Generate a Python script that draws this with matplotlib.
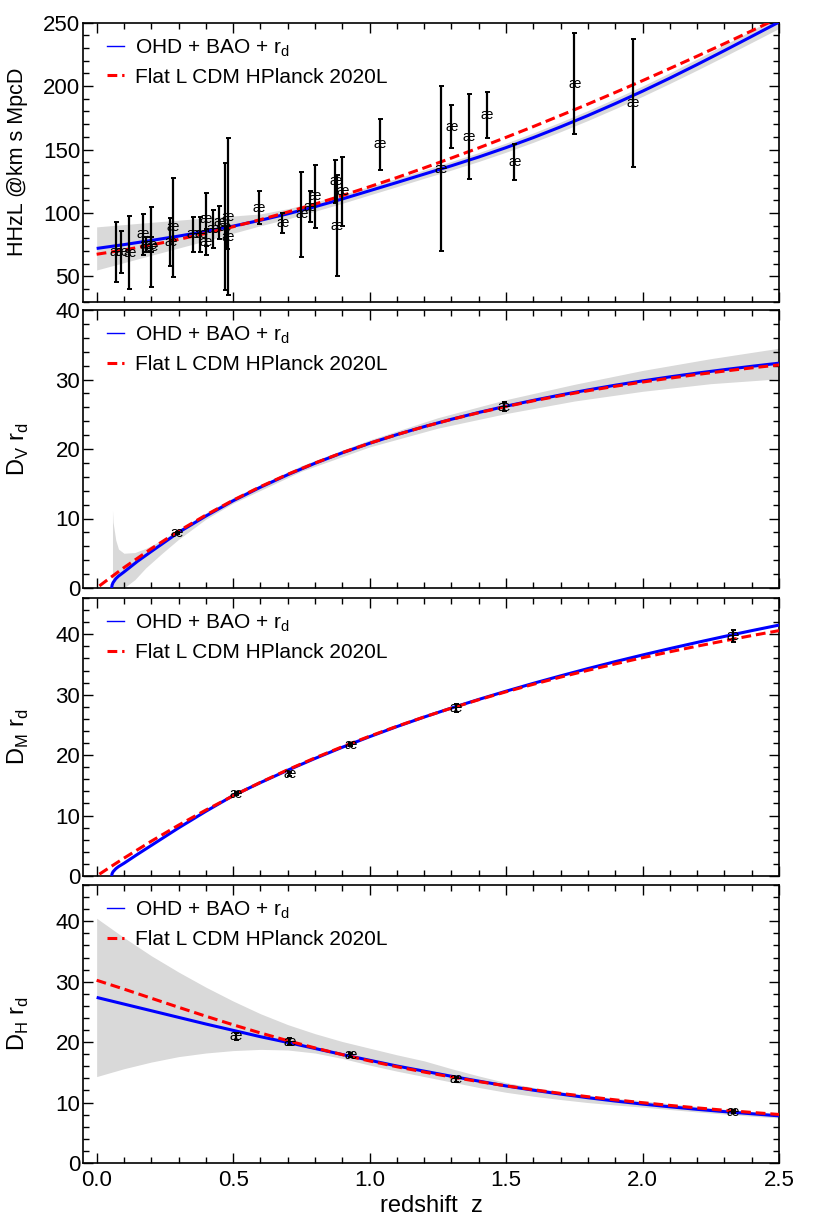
import numpy as np
import matplotlib
matplotlib.use("Agg")
import matplotlib.pyplot as plt
from matplotlib.lines import Line2D
from matplotlib.ticker import MultipleLocator

plt.rcParams['font.family'] = ['Liberation Sans', 'DejaVu Sans']
plt.rcParams['mathtext.fontset'] = 'custom'
plt.rcParams['mathtext.rm'] = 'Liberation Sans'

# ---- data ----
z_grid = np.round(np.arange(0, 2.51, 0.1), 2)

# cosmic chronometer H(z) points
z_ohd = [0.07, 0.09, 0.12, 0.17, 0.179, 0.199, 0.20, 0.27, 0.28, 0.352, 0.3802, 0.40,
         0.4004, 0.4247, 0.4497, 0.47, 0.4783, 0.48, 0.593, 0.68, 0.75, 0.781, 0.80,
         0.875, 0.88, 0.90, 1.037, 1.26, 1.30, 1.363, 1.43, 1.53, 1.75, 1.965]
H_ohd = [69, 69, 68.6, 83, 75, 75, 72.9, 77, 88.8, 83, 83, 95, 77, 87.1, 92.8, 89, 80.9,
         97, 104, 92, 98.8, 105, 113.1, 125, 90, 117, 154, 135, 168, 160, 177, 140, 202, 186.5]
H_err = [23.5, 16.7, 28.8, 16, 6, 6, 31.5, 18.7, 39, 14, 13.5, 21, 10.2, 15, 13, 50, 9,
         62, 13, 8, 33.6, 12, 25, 17, 40, 27, 20, 65, 17, 33.6, 18, 14, 40, 50.4]

H_fit = [72.0, 75.0, 78.3, 81.7, 85.5, 89.6, 94.2, 99.3, 104.9, 111.0, 117.5, 124.0, 130.6,
         137.2, 144.1, 151.5, 159.4, 167.9, 176.8, 186.2, 196.0, 206.3, 217.0, 228.0, 239.2, 250.5]
H_lo = [55.0, 60.8, 66.6, 72.3, 78.0, 84.0, 89.9, 95.3, 101.3, 107.6, 114.2, 120.7, 127.3,
        133.8, 140.6, 147.9, 155.7, 164.1, 172.9, 182.2, 191.9, 202.1, 212.6, 223.4, 234.4, 245.5]
H_hi = [89.0, 90.8, 92.6, 94.3, 96.0, 97.6, 99.2, 103.3, 108.5, 114.4, 120.8, 127.3, 133.9,
        140.6, 147.6, 155.1, 163.1, 171.7, 180.7, 190.2, 200.1, 210.5, 221.4, 232.6, 244.0, 255.5]
H_lcdm = [67.4, 70.8, 74.7, 79.1, 83.9, 89.1, 94.7, 100.7, 107.0, 113.7, 120.7, 127.9, 135.5,
          143.3, 151.3, 159.6, 168.1, 176.9, 185.8, 195.0, 204.3, 213.9, 223.6, 233.5, 243.6, 253.9]

# BAO points
z_dv = [0.295, 1.491]
dv = [7.93, 26.07]
dv_err = [0.15, 0.67]
z_dm = [0.51, 0.706, 0.93, 1.317, 2.33]
dm = [13.62, 16.85, 21.71, 27.79, 39.71]
dm_err = [0.25, 0.32, 0.28, 0.69, 0.94]
z_dh = [0.51, 0.706, 0.93, 1.317, 2.33]
dh = [20.98, 20.08, 17.88, 13.82, 8.52]
dh_err = [0.61, 0.60, 0.35, 0.42, 0.17]

# fitted distance curves
z_fit_d = [0.055, 0.0565, 0.06, 0.07, 0.08, 0.1, 0.15, 0.2, 0.3] + list(np.round(np.arange(0.4, 2.51, 0.1), 2))
DV_fit = [0, 0.42, 0.77, 1.33, 1.71, 2.3, 3.85, 5.25, 8.0, 10.35, 12.55, 14.5, 16.3, 17.95,
          19.45, 20.82, 22.07, 23.22, 24.28, 25.26, 26.16, 27.0, 27.78, 28.5, 29.18, 29.8,
          30.38, 30.92, 31.42, 31.9, 32.35]
DM_fit = [0, 0.38, 0.7, 1.2, 1.55, 2.1, 3.6, 5.05, 7.95, 10.7, 13.3, 15.45, 17.5, 19.45,
          21.3, 23.05, 24.72, 26.3, 27.8, 29.22, 30.58, 31.88, 33.12, 34.32, 35.47, 36.57,
          37.63, 38.65, 39.64, 40.6, 41.52]
DH_fit = [27.4, 26.3, 25.2, 24.1, 23.0, 21.95, 20.9, 19.95, 18.95, 17.95, 17.0, 16.05, 15.2,
          14.35, 13.55, 12.75, 12.05, 11.4, 10.8, 10.25, 9.75, 9.3, 8.88, 8.5, 8.15, 7.8]

z_dv_band = [0.058, 0.06, 0.07, 0.08, 0.1, 0.14, 0.18, 0.24, 0.3, 0.4, 0.5, 0.75, 1.0,
             1.25, 1.5, 1.75, 2.0, 2.25, 2.5]
DV_lo = [0, 0, 0, 0, 0, 1.2, 2.9, 5.0, 7.0, 9.9, 12.2, 16.8, 20.3, 23.0, 25.1, 26.9, 28.3, 29.4, 30.1]
DV_hi = [11.2, 9.5, 6.9, 5.6, 5.0, 5.1, 5.7, 6.9, 8.4, 10.8, 13.0, 17.6, 21.3, 24.5, 27.1,
         29.3, 31.3, 33.0, 34.5]
DH_lo = [14.3, 15.6, 16.7, 17.6, 18.2, 18.6, 18.8, 18.7, 18.2, 17.3, 16.2, 15.2, 14.3, 13.4,
         12.5, 11.7, 11.05, 10.5, 10.0, 9.6, 9.25, 8.85, 8.45, 8.1, 7.75, 7.45]
DH_hi = [40.5, 37.3, 34.3, 31.6, 29.1, 26.8, 24.7, 22.9, 21.4, 20.1, 19.0, 17.9, 16.9, 15.6,
         14.4, 13.3, 12.5, 11.8, 11.2, 10.7, 10.3, 9.8, 9.35, 8.9, 8.5, 8.15]

z_lcdm_d = [0.01, 0.05] + list(z_grid[1:])
DV_lcdm = [0.30, 1.48, 2.93, 5.65, 8.18, 10.49, 12.63, 14.58, 16.36, 17.98, 19.48, 20.83,
           22.07, 23.21, 24.26, 25.22, 26.11, 26.93, 27.68, 28.38, 29.03, 29.63, 30.19,
           30.72, 31.21, 31.67, 32.10]
DM_lcdm = [0.30, 1.49, 2.95, 5.75, 8.41, 10.91, 13.27, 15.49, 17.58, 19.54, 21.39, 23.13,
           24.77, 26.32, 27.78, 29.17, 30.48, 31.72, 32.91, 34.03, 35.10, 36.12, 37.10,
           38.03, 38.92, 39.78, 40.60]
DH_lcdm = [30.24, 28.78, 27.27, 25.77, 24.29, 22.87, 21.52, 20.24, 19.04, 17.93, 16.89,
           15.93, 15.05, 14.23, 13.47, 12.77, 12.12, 11.52, 10.97, 10.45, 9.98, 9.53, 9.12,
           8.73, 8.37, 8.03]

ylabels = ['HHzL @km s MpcD', r'D$_\mathrm{V}$ r$_\mathrm{d}$',
           r'D$_\mathrm{M}$ r$_\mathrm{d}$', r'D$_\mathrm{H}$ r$_\mathrm{d}$']
ylabel_sizes = [15.5, 17, 17, 17]
leg_labels = [r'OHD + BAO + r$_\mathrm{d}$', 'Flat L CDM HPlanck 2020L']

BLUE = (0, 0, 1)
RED = (1, 0, 0)
GRAY = (0.85, 0.85, 0.85)
DASH = (0, (3.2, 1.6))

fig = plt.figure(figsize=(8.14, 12.21), dpi=100)
W = 814.0
Hpx = 1221.0
left, right = 83 / W, 779 / W
tops = [22.7, 310, 598, 885]
bots = [301.7, 588, 876, 1163]
axs = []
for t, b in zip(tops, bots):
    axs.append(fig.add_axes([left, 1 - b / Hpx, right - left, (b - t) / Hpx]))

panels = [
    dict(z=z_grid, fit=H_fit, zb=z_grid, lo=H_lo, hi=H_hi, zl=z_grid, lcdm=H_lcdm,
         zp=z_ohd, p=H_ohd, e=H_err, ylim=(30, 250), major=50, minor=10),
    dict(z=z_fit_d, fit=DV_fit, zb=z_dv_band, lo=DV_lo, hi=DV_hi, zl=z_lcdm_d, lcdm=DV_lcdm,
         zp=z_dv, p=dv, e=dv_err, ylim=(0, 40), major=10, minor=2),
    dict(z=z_fit_d, fit=DM_fit, zb=None, lo=None, hi=None, zl=z_lcdm_d, lcdm=DM_lcdm,
         zp=z_dm, p=dm, e=dm_err, ylim=(0, 46), major=10, minor=2),
    dict(z=z_grid, fit=DH_fit, zb=z_grid, lo=DH_lo, hi=DH_hi, zl=z_grid, lcdm=DH_lcdm,
         zp=z_dh, p=dh, e=dh_err, ylim=(0, 46), major=10, minor=2),
]

for i, (ax, P) in enumerate(zip(axs, panels)):
    if P['zb'] is not None:
        ax.fill_between(P['zb'], P['lo'], P['hi'], color=GRAY, lw=0, zorder=1)
    ax.plot(P['z'], P['fit'], color=BLUE, lw=2.2, zorder=3, solid_capstyle='butt')
    ax.plot(P['zl'], P['lcdm'], color=RED, lw=2.2, ls=DASH, zorder=4)
    ax.errorbar(P['zp'], P['p'], yerr=P['e'], fmt='none', ecolor='black', elinewidth=1.6,
                capsize=1.8, capthick=1.4, zorder=5)
    for zz, vv in zip(P['zp'], P['p']):
        ax.text(zz, vv, 'æ', fontsize=10, ha='center', va='center', zorder=6)

    ax.set_xlim(-0.05, 2.5)
    ax.set_ylim(*P['ylim'])
    ax.xaxis.set_major_locator(MultipleLocator(0.5))
    ax.xaxis.set_minor_locator(MultipleLocator(0.1))
    ax.yaxis.set_major_locator(MultipleLocator(P['major']))
    ax.yaxis.set_minor_locator(MultipleLocator(P['minor']))
    ax.tick_params(which='both', direction='in', top=True, right=True, width=1.0,
                   labelsize=16, pad=2)
    ax.tick_params(which='major', length=7)
    ax.tick_params(which='minor', length=4)
    for s in ax.spines.values():
        s.set_linewidth(1.2)
    if i < 3:
        ax.tick_params(labelbottom=False)
    else:
        ax.xaxis.set_major_formatter(plt.FormatStrFormatter('%.1f'))
        ax.tick_params(axis='x', pad=5)
        ax.set_xlabel('redshift  z', fontsize=17, labelpad=3)

    fig.text(18 / W, 1 - (tops[i] + bots[i]) / 2 / Hpx, ylabels[i], rotation=90,
             ha='center', va='center', fontsize=ylabel_sizes[i])

    handles = [Line2D([], [], color=BLUE, lw=1.0),
               Line2D([], [], color=RED, lw=2.2, ls=DASH)]
    ax.legend(handles, leg_labels, loc='upper left', bbox_to_anchor=(0.013, 1.0),
              frameon=False, fontsize=15, handlelength=0.85, handletextpad=0.5,
              labelspacing=0.42, borderaxespad=0.4, borderpad=0.3)

fig.savefig('out.png', dpi=100)
